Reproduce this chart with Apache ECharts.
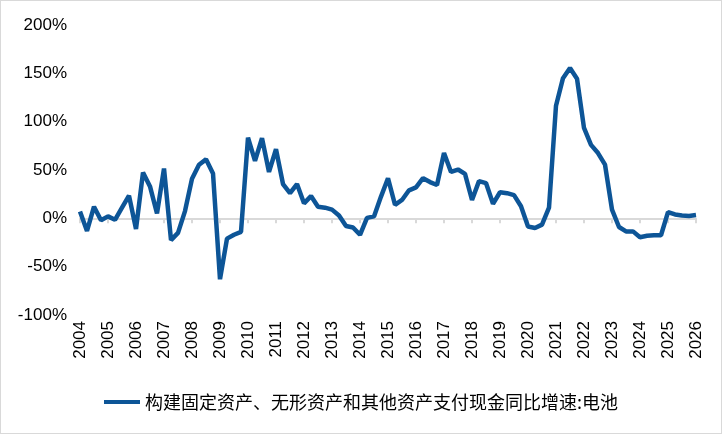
<!DOCTYPE html>
<html>
<head>
    <meta charset="utf-8">
    <title>电池 资本开支同比</title>
    <script src="https://cdn.jsdelivr.net/npm/echarts@6/dist/echarts.min.js"></script>
    <style>
        html, body { margin: 0; padding: 0; background: #fff; }
        #main { width: 722px; height: 434px; box-sizing: border-box; border: 1px solid #d9d9d9; }
    </style>
</head>
<body>
<div id="main"></div>
<script>
    // 季度数据, 2003-12 ~ 2025-12
    var yearLabels = ['2004', '2005', '2006', '2007', '2008', '2009', '2010', '2011', '2012', '2013', '2014',
        '2015', '2016', '2017', '2018', '2019', '2020', '2021', '2022', '2023', '2024', '2025', '2026'];

    var values = [
        7, -13, 12, -2, 2, -1.5, 11, 23.5,
        -11, 47.5, 33, 5, 51.5, -22.5, -15, 7.5,
        41, 55.5, 61, 46.5, -63, -21, -17, -14,
        83.5, 59.5, 83, 48, 71.5, 35.5, 26, 35.5,
        15.5, 23, 12, 11, 9, 3, -8, -9.5,
        -17, 0.5, 2, 22.5, 41.5, 14, 19, 29,
        32, 41.5, 37.5, 34.5, 67.5, 48, 50.5, 46,
        19, 38.5, 36.5, 15, 27, 26, 24, 12.5,
        -8.5, -10, -6.5, 11, 116.5, 145, 155.5, 144.5,
        93.5, 76, 67.5, 55.5, 9, -9, -13.5, -13.5,
        -19.5, -18, -17.5, -17.5, 6.5, 4, 3, 2.5,
        3.5
    ];

    var seriesName = '构建固定资产、无形资产和其他资产支付现金同比增速:电池';

    var categories = [];
    for (var i = 0; i < values.length; i++) {
        var y = 2003 + Math.floor((i + 3) / 4);
        var m = ['12', '03', '06', '09'][i % 4];
        categories.push(y + '-' + m);
    }

    function yearTick(idx) { return idx % 4 === 0; }

    var myChart = echarts.init(document.getElementById('main'));
    var font = 'Arial, "Liberation Sans", "Noto Sans CJK SC", sans-serif';

    var option = {
        animation: false,
        textStyle: { fontFamily: font },
        grid: { left: 79, right: 25, top: 24, bottom: 118, containLabel: false },
        legend: {
            bottom: 17,
            left: 'center',
            icon: 'rect',
            itemWidth: 36,
            itemHeight: 4,
            itemGap: 6,
            textStyle: { fontSize: 18, color: '#000', fontFamily: '"Noto Sans CJK SC", sans-serif' },
            data: [seriesName]
        },
        xAxis: [{
            type: 'category',
            data: categories,
            boundaryGap: false,
            axisLine: { onZero: true, lineStyle: { color: '#d9d9d9', width: 2 } },
            axisTick: { show: true, interval: yearTick, length: 5, lineStyle: { color: '#d9d9d9', width: 2 } },
            axisLabel: { show: false },
            splitLine: { show: false }
        }, {
            type: 'category',
            data: categories,
            boundaryGap: false,
            position: 'bottom',
            axisLine: { show: false, onZero: false },
            axisTick: { show: false },
            axisLabel: {
                interval: yearTick,
                rotate: 90,
                margin: 6,
                fontSize: 17,
                color: '#000',
                formatter: function (v, idx) { return yearLabels[idx / 4]; }
            },
            splitLine: { show: false }
        }],
        yAxis: {
            type: 'value',
            min: -100,
            max: 200,
            interval: 50,
            axisLine: { show: false },
            axisTick: { show: false },
            splitLine: { show: false },
            axisLabel: { formatter: '{value}%', fontSize: 17, color: '#000', margin: 13 }
        },
        series: [{
            name: seriesName,
            type: 'line',
            xAxisIndex: 0,
            data: values,
            showSymbol: false,
            symbol: 'none',
            lineStyle: { width: 4.5, color: '#0d5597' },
            itemStyle: { color: '#0d5597' }
        }]
    };

    myChart.setOption(option);
</script>
</body>
</html>
